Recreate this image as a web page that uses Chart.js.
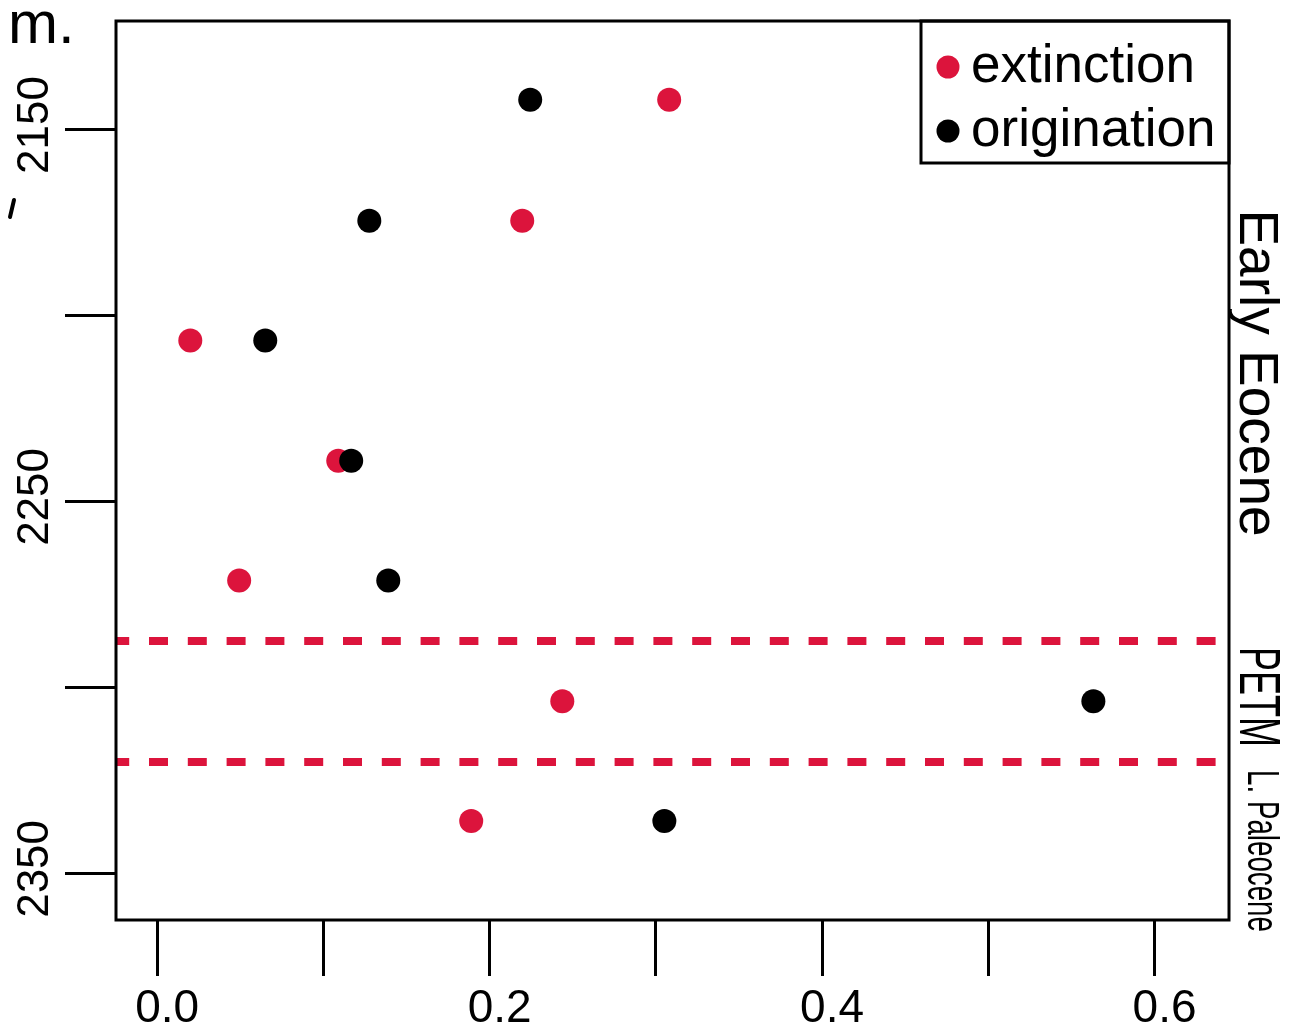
<!DOCTYPE html>
<html>
<head>
<meta charset="utf-8">
<title>Extinction and origination rates</title>
<script src="https://cdn.jsdelivr.net/npm/chart.js@4.4.1/dist/chart.umd.min.js"></script>
<style>
    html, body { margin: 0; padding: 0; background: #fff; }
    canvas { display: block; }
</style>
</head>
<body>
<canvas id="rates" width="1292" height="1034"></canvas>
<script>
// Sample depths (m) and per-interval rates
const depths = [2141.9, 2174.4, 2206.6, 2238.9, 2271.1, 2303.6, 2335.8];
const extinction = [0.308, 0.2196, 0.0199, 0.1089, 0.0493, 0.2437, 0.1889];
const origination = [0.2244, 0.1276, 0.065, 0.1167, 0.139, 0.5632, 0.3051];

// PETM interval boundaries (m)
const petmBounds = [2287.4, 2319.9];

// Axis limits and labelled ticks
const rateRange = [-0.0248, 0.6448];
const depthRange = [2120.7, 2362.4];
const rateLabels = ['0.0', '0.2', '0.4', '0.6'];
const depthLabels = ['2150', '2250', '2350'];

const RED = '#dc143c';
const FONT = '"Liberation Sans", Arial, Helvetica, sans-serif';

function toPoints(xs) {
    return xs.map((x, i) => ({ x: x, y: depths[i] }));
}

// Dashed PETM boundaries, behind the points
const boundaryLines = {
    id: 'boundaryLines',
    beforeDatasetsDraw(chart) {
        const { ctx, chartArea: a, scales: { y } } = chart;
        ctx.save();
        ctx.beginPath();
        ctx.rect(a.left, a.top, a.right - a.left, a.bottom - a.top);
        ctx.clip();
        ctx.strokeStyle = RED;
        ctx.lineWidth = 8;
        ctx.setLineDash([19, 19.8]);
        ctx.lineDashOffset = 5.8;
        petmBounds.forEach(b => {
            const py = y.getPixelForValue(b);
            ctx.beginPath();
            ctx.moveTo(a.left, py);
            ctx.lineTo(a.right, py);
            ctx.stroke();
        });
        ctx.restore();
    }
};

// Frame, rotated depth labels, epoch labels and the boxed legend
const decorations = {
    id: 'decorations',
    afterDraw(chart) {
        const { ctx, chartArea: a, scales: { y } } = chart;
        ctx.save();

        // plot frame
        ctx.strokeStyle = '#000';
        ctx.lineWidth = 3;
        ctx.strokeRect(a.left, a.top, a.right - a.left, a.bottom - a.top);

        // depth tick labels, reading bottom to top
        ctx.fillStyle = '#000';
        ctx.font = '44px ' + FONT;
        ctx.textAlign = 'center';
        ctx.textBaseline = 'middle';
        y.ticks.forEach(t => {
            const label = String(t.value);
            if (!depthLabels.includes(label)) return;
            ctx.save();
            ctx.translate(36, y.getPixelForValue(t.value) - 5);
            ctx.rotate(-Math.PI / 2);
            ctx.fillText(label, 0, 0);
            ctx.restore();
        });

        // unit left over from the axis title
        ctx.textAlign = 'left';
        ctx.textBaseline = 'alphabetic';
        ctx.font = '60px ' + FONT;
        ctx.fillText('m.', 8, 43);
        ctx.lineWidth = 4;
        ctx.lineCap = 'round';
        ctx.beginPath();
        ctx.moveTo(14, 200);
        ctx.lineTo(10, 217);
        ctx.stroke();
        ctx.lineCap = 'butt';

        // epoch names along the right edge, reading top to bottom
        const epochs = [
            { text: 'Early Eocene', x: 1240, y: 373, size: 55, squeeze: 1 },
            { text: 'PETM', x: 1240, y: 697, size: 58, squeeze: 0.62 },
            { text: 'L. Paleocene', x: 1248, y: 851, size: 44, squeeze: 0.63 }
        ];
        epochs.forEach(e => {
            ctx.save();
            ctx.translate(e.x, e.y);
            ctx.rotate(Math.PI / 2);
            ctx.scale(e.squeeze, 1);
            ctx.font = e.size + 'px ' + FONT;
            ctx.textAlign = 'center';
            ctx.fillText(e.text, 0, 0);
            ctx.restore();
        });

        // legend box in the top right corner
        const box = { left: 921, top: a.top, right: a.right, bottom: 163 };
        ctx.lineWidth = 3;
        ctx.strokeRect(box.left, box.top, box.right - box.left, box.bottom - box.top);
        ctx.font = '53px ' + FONT;
        ctx.textAlign = 'left';
        chart.data.datasets.forEach((ds, i) => {
            const cy = 67 + i * 64;
            ctx.fillStyle = ds.backgroundColor;
            ctx.beginPath();
            ctx.arc(948, cy, 11.5, 0, Math.PI * 2);
            ctx.fill();
            ctx.fillStyle = '#000';
            ctx.fillText(ds.label, 971, cy + 15);
        });

        ctx.restore();
    }
};

new Chart(document.getElementById('rates'), {
    type: 'scatter',
    data: {
        datasets: [
            {
                label: 'extinction',
                data: toPoints(extinction),
                backgroundColor: RED,
                borderWidth: 0,
                pointRadius: 12,
                order: 1
            },
            {
                label: 'origination',
                data: toPoints(origination),
                backgroundColor: '#000',
                borderWidth: 0,
                pointRadius: 12,
                order: 0
            }
        ]
    },
    options: {
        responsive: false,
        devicePixelRatio: 1,
        animation: false,
        layout: { padding: { top: 21, right: 63, left: 0, bottom: 0 } },
        plugins: {
            legend: { display: false },
            tooltip: { enabled: false }
        },
        scales: {
            x: {
                type: 'linear',
                position: 'bottom',
                min: rateRange[0],
                max: rateRange[1],
                border: { display: false },
                grid: {
                    display: true,
                    drawOnChartArea: false,
                    drawTicks: true,
                    tickLength: 56,
                    tickWidth: 3,
                    tickColor: '#000'
                },
                ticks: {
                    stepSize: 0.1,
                    includeBounds: false,
                    autoSkip: false,
                    maxRotation: 0,
                    labelOffset: 10,
                    padding: 6,
                    color: '#000',
                    font: { family: FONT, size: 46 },
                    callback: v => {
                        const label = (Math.round(v * 10) / 10).toFixed(1);
                        return rateLabels.includes(label) ? label : '';
                    }
                },
                afterFit: s => { s.height = 114; }
            },
            y: {
                type: 'linear',
                reverse: true,
                min: depthRange[0],
                max: depthRange[1],
                border: { display: false },
                grid: {
                    display: true,
                    drawOnChartArea: false,
                    drawTicks: true,
                    tickLength: 51,
                    tickWidth: 3,
                    tickColor: '#000'
                },
                ticks: {
                    stepSize: 50,
                    includeBounds: false,
                    display: false
                },
                afterFit: s => { s.width = 116; }
            }
        }
    },
    plugins: [boundaryLines, decorations]
});
</script>
</body>
</html>
